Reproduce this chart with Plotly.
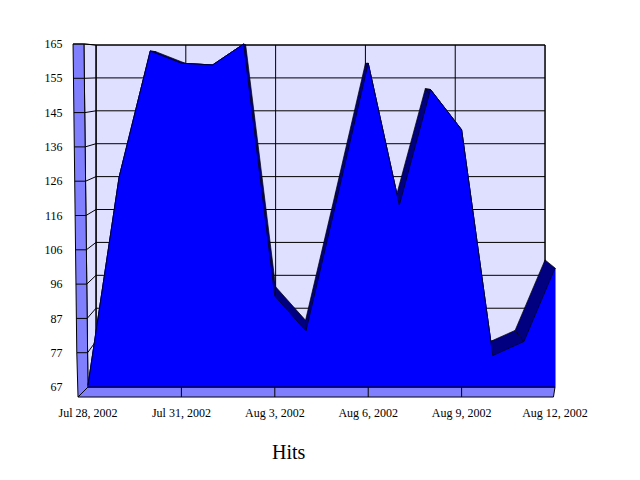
import plotly.graph_objects as go

dates = ["Jul 28, 2002", "Jul 29, 2002", "Jul 30, 2002", "Jul 31, 2002", "Aug 1, 2002", "Aug 2, 2002",
         "Aug 3, 2002", "Aug 4, 2002", "Aug 5, 2002", "Aug 6, 2002", "Aug 7, 2002", "Aug 8, 2002",
         "Aug 9, 2002", "Aug 10, 2002", "Aug 11, 2002", "Aug 12, 2002"]
hits = [67.5, 127, 163, 159.5, 159, 165, 93, 83, 121, 159.5, 119, 152, 140.5, 76, 80, 101]
y_tick_vals = [67, 76.8, 86.6, 96.4, 106.2, 116, 125.8, 135.6, 145.4, 155.2, 165]
y_tick_text = ["67", "77", "87", "96", "106", "116", "126", "136", "145", "155", "165"]
x_tick_days = [0, 3, 6, 9, 12, 15]
x_tick_text = [dates[i] for i in x_tick_days]

days = list(range(len(dates)))
BASE = 67
FLOOR = 64.14
BLUE, NAVY, WALL, BACK = "#0000FF", "#000080", "#8080FF", "#DFDFFF"


def bx(d):
    return 0.257 + 0.9615 * d


def bv(v):
    return 70.71 + (v - BASE) * 0.9592


fig = go.Figure()


def poly(xs, ys, fill=None, line="black", width=1):
    fig.add_trace(go.Scatter(
        x=xs, y=ys, mode="lines", hoverinfo="skip", showlegend=False,
        fill="toself" if fill else None, fillcolor=fill,
        line=dict(color=line, width=width)))


# back wall
poly([bx(0), bx(15), bx(15), bx(0), bx(0)], [bv(165), bv(165), bv(BASE), bv(BASE), bv(165)], BACK)
# side wall
poly([-0.13, bx(0), bx(0), 0, -0.13], [165, bv(165), bv(BASE), BASE, 165], BACK)
# grid on the back wall and its continuation on the side wall
for v in y_tick_vals:
    poly([bx(0), bx(15)], [bv(v), bv(v)], width=1)
    inner = -0.13 + 0.13 * (165 - v) / (165 - BASE)
    poly([inner, bx(0)], [v, bv(v)], width=1)
for d in x_tick_days:
    poly([bx(d), bx(d)], [bv(BASE), bv(165)], width=1)
# left strip
poly([-0.48, -0.13, 0, -0.32, -0.36, -0.48], [165, 165, BASE, FLOOR, 76.8, 165], WALL)
for v in y_tick_vals[1:]:
    outer = -0.48 + 0.12 * (165 - v) / (165 - 76.8)
    inner = -0.13 + 0.13 * (165 - v) / (165 - BASE)
    poly([outer, inner], [v, v], width=1)
# floor strip
poly([-0.32, 0, 15.0, 14.95, -0.32], [FLOOR, BASE, BASE, FLOOR, FLOOR], WALL)
for d in x_tick_days[1:-1]:
    poly([d, d], [BASE, FLOOR], width=1)
# ribbon between the back and the front edge
for i in range(len(days) - 1):
    a, b = days[i], days[i + 1]
    poly([a, b, bx(b), bx(a), a],
         [hits[i], hits[i + 1], bv(hits[i + 1]), bv(hits[i]), hits[i]], NAVY, width=0.7)
# front area
poly(days + [15, 0, 0], hits + [BASE, BASE, hits[0]], BLUE, line=BLUE, width=1)
poly(days, hits, width=0.8)
poly([0, 15], [BASE, BASE], width=1)

fig.update_layout(
    width=640, height=480, autosize=False,
    margin=dict(l=62, r=88, t=32, b=88),
    paper_bgcolor="white", plot_bgcolor="white",
    font=dict(family="Liberation Serif", size=12, color="black"),
    xaxis=dict(range=[-0.578, 15.16], tickmode="array", tickvals=x_tick_days, ticktext=x_tick_text,
               showgrid=False, zeroline=False, showline=False, ticks="outside", ticklen=2,
               tickcolor="rgba(0,0,0,0)", tickangle=0),
    yaxis=dict(range=[63.29, 166.14], tickmode="array", tickvals=y_tick_vals, ticktext=y_tick_text,
               showgrid=False, zeroline=False, showline=False, ticks="outside", ticklen=4,
               tickcolor="rgba(0,0,0,0)"),
    annotations=[dict(text="Hits", xref="paper", yref="paper", x=0.447, y=-0.144,
                      xanchor="center", yanchor="middle", showarrow=False,
                      font=dict(size=20, family="Liberation Serif", color="black"))],
)
fig.write_html("out.html")
